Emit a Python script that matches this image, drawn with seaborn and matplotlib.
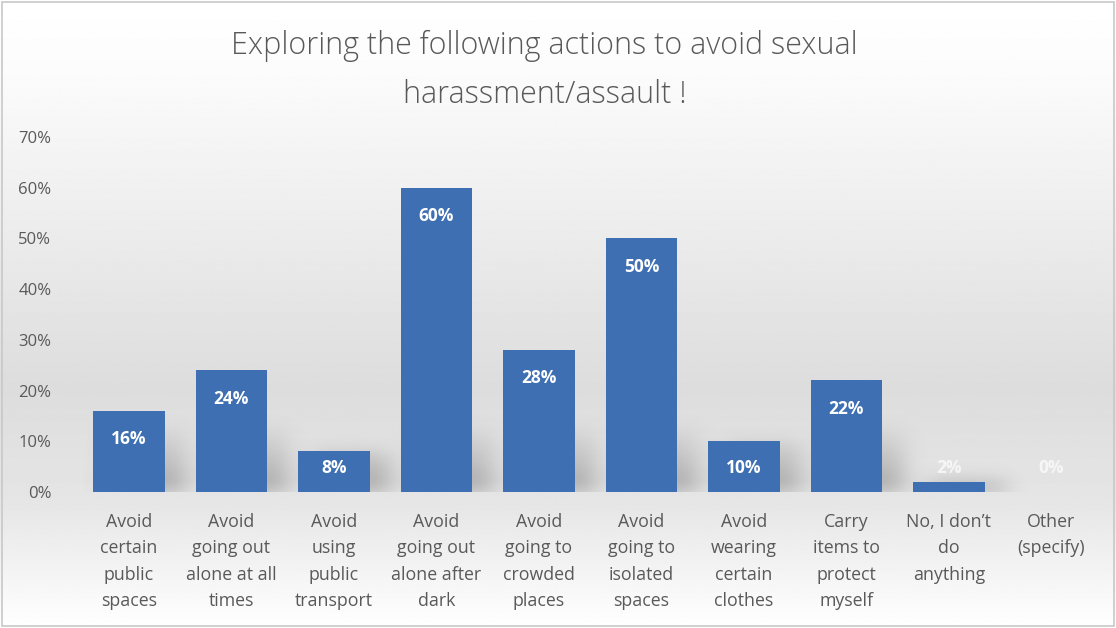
import numpy as np
import pandas as pd
import matplotlib
matplotlib.use("Agg")
import matplotlib.pyplot as plt
import seaborn as sns

categories = [
    "Avoid\ncertain\npublic\nspaces",
    "Avoid\ngoing out\nalone at all\ntimes",
    "Avoid\nusing\npublic\ntransport",
    "Avoid\ngoing out\nalone after\ndark",
    "Avoid\ngoing to\ncrowded\nplaces",
    "Avoid\ngoing to\nisolated\nspaces",
    "Avoid\nwearing\ncertain\nclothes",
    "Carry\nitems to\nprotect\nmyself",
    "No, I don\u2019t\ndo\nanything",
    "Other\n(specify)",
]
values = [16, 24, 8, 60, 28, 50, 10, 22, 2, 0]
yticks = [0, 10, 20, 30, 40, 50, 60, 70]
title = "Exploring the following actions to avoid sexual\nharassment/assault !"

sns.set_theme(style="white")
plt.rcParams["font.family"] = ["Open Sans", "DejaVu Sans"]

df = pd.DataFrame({"action": categories, "share": values})

fig = plt.figure(figsize=(11.16, 6.28), dpi=100)

# soft vertical gradient backdrop: white -> light gray -> white
bg = fig.add_axes([0, 0, 1, 1], zorder=-10)
t = np.linspace(0, 1, 400)
shade = np.interp(t, [0.0, 0.12, 0.62, 0.80, 1.0], [1.0, 0.985, 0.865, 0.90, 1.0])
bg.imshow(np.tile(shade[:, None], (1, 2)), cmap="gray", vmin=0, vmax=1,
          aspect="auto", extent=[0, 1, 0, 1], interpolation="bilinear")
bg.set_axis_off()
bg.add_patch(plt.Rectangle((0.002, 0.003), 0.996, 0.994, fill=False,
                           edgecolor="#c8c8c8", lw=1.2, transform=bg.transAxes))

ax = fig.add_axes([0.0696, 0.2166, 0.9184, 0.5652])
ax.patch.set_alpha(0)
sns.barplot(data=df, x="action", y="share", color="#3d6fb2", saturation=1,
            width=0.7, linewidth=0, ax=ax, zorder=3)

ax.set_xlim(-0.5, len(categories) - 0.5)
ax.set_ylim(0, 70)

# soft shadows cast to the right of each bar, fading upward
nx, ny = 1200, 420
xs = np.linspace(-0.5, len(categories) - 0.5, nx)
ys = np.linspace(0, 70, ny)
X, Y = np.meshgrid(xs, ys)
shadow = np.zeros_like(X)
for p in ax.patches:
    x0, w, h = p.get_x(), p.get_width(), p.get_height()
    if h <= 0:
        continue
    top = min(h, 13.0)
    sel = (X > x0 + 0.15) & (X < x0 + w + 0.2) & (Y < top)
    shadow[sel] = np.maximum(shadow[sel], 1 - Y[sel] / 14.0)


def blur(a, sigma, axis):
    r = int(3 * sigma)
    k = np.exp(-0.5 * (np.arange(-r, r + 1) / sigma) ** 2)
    k /= k.sum()
    return np.apply_along_axis(lambda v: np.convolve(v, k, mode="same"), axis, a)


shadow = blur(blur(shadow, 14, 1), 10, 0)
rgba = np.zeros((ny, nx, 4))
rgba[..., :3] = 0.35
rgba[..., 3] = np.clip(shadow * 0.45, 0, 1)
ax.imshow(rgba, extent=[xs[0], xs[-1], 0, 70], origin="lower", aspect="auto",
          zorder=1, interpolation="bilinear")
ax.set_xlim(-0.5, len(categories) - 0.5)
ax.set_ylim(0, 70)

ax.set_yticks(yticks)
ax.set_yticklabels([f"{v}%" for v in yticks], color="#595959", fontsize=12)
ax.tick_params(axis="y", length=0, pad=19)
ax.tick_params(axis="x", length=0, pad=15)
ax.set_xticks(range(len(categories)))
ax.set_xticklabels(categories, color="#595959", fontsize=12.8, linespacing=1.6,
                   va="top")
ax.set_xlabel("")
ax.set_ylabel("")
for s in ax.spines.values():
    s.set_visible(False)

for i, v in enumerate(values):
    y = max(v - 5.6, 4.7)
    ax.text(i, y, f"{v}%", ha="center", va="center", color="white",
            fontsize=12.5, fontweight="bold", alpha=1.0 if v >= 5 else 0.7,
            zorder=5)

fig.text(0.488, 0.888, title, ha="center", va="center", fontsize=22,
         color="#595959", fontweight="light", linespacing=1.68)

fig.savefig("out.png", dpi=100)
